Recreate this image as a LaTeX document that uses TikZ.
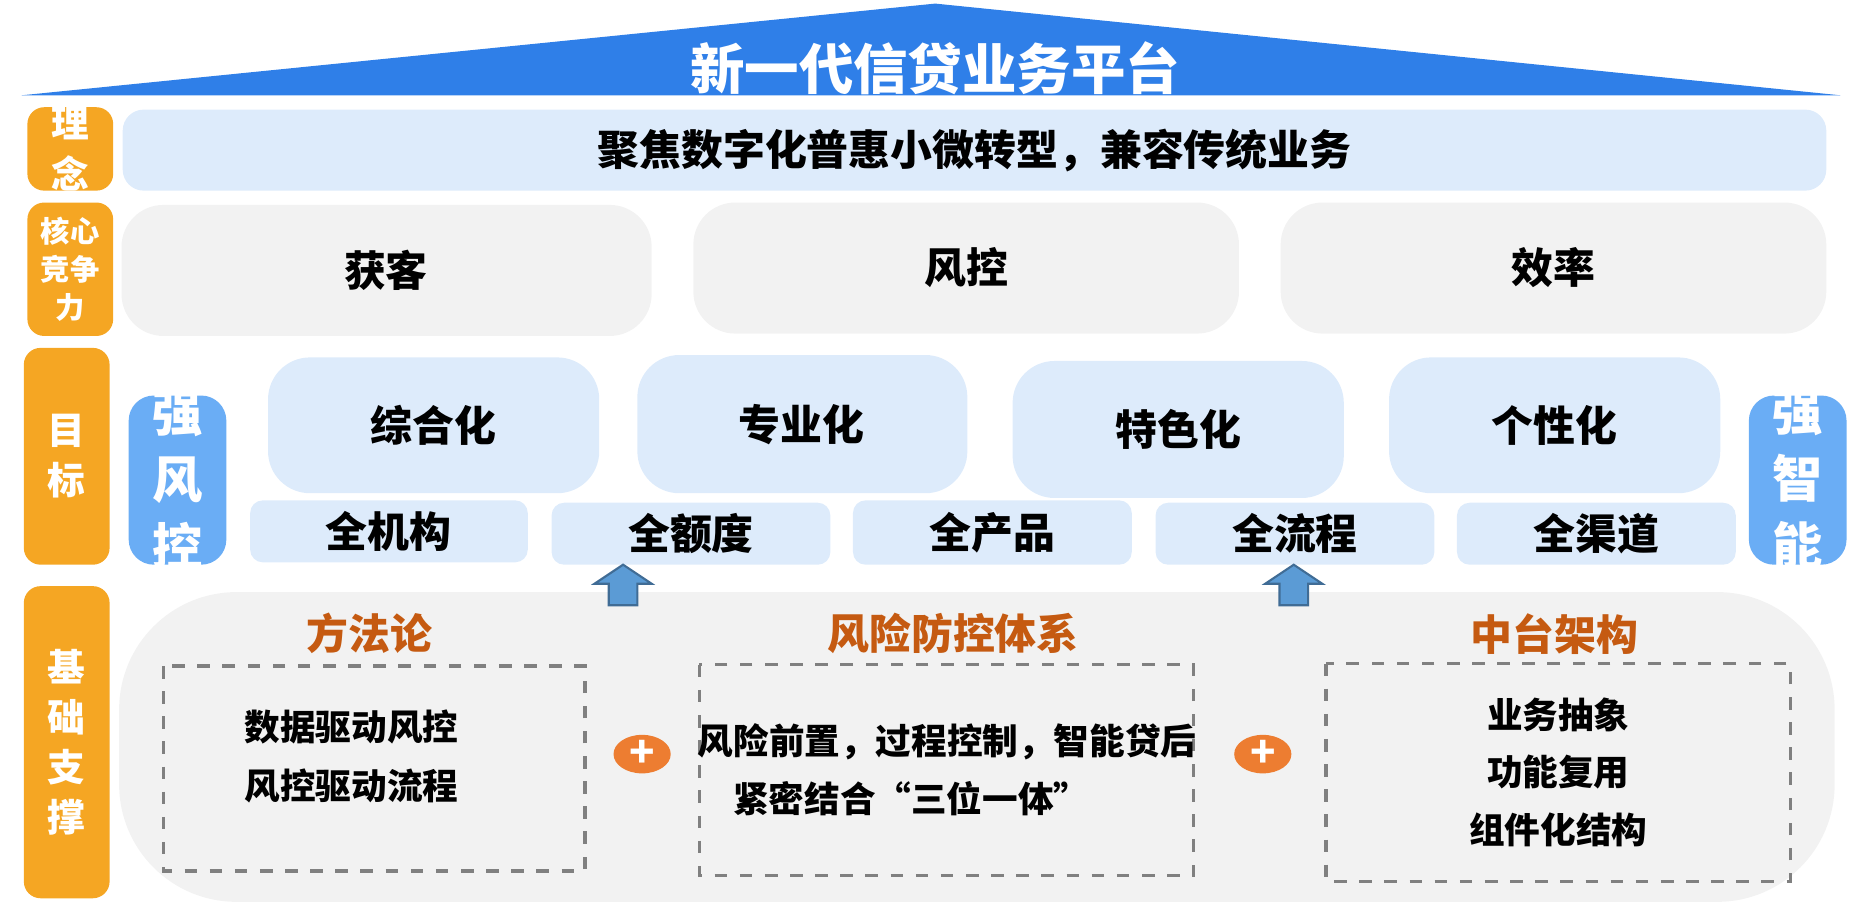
\documentclass[tikz,border=0pt]{standalone}
\usepackage{fontspec}
\setmainfont{Noto Sans CJK SC}
\usetikzlibrary{shapes.geometric,positioning}
\definecolor{roofblue}{HTML}{2F7FE8}
\definecolor{tagorange}{HTML}{F5A623}
\definecolor{paleblue}{HTML}{DDEBFB}
\definecolor{palegrey}{HTML}{F2F2F2}
\definecolor{strongblue}{HTML}{6AADF5}
\definecolor{headbrown}{HTML}{C55A11}
\definecolor{plusorange}{HTML}{ED7D31}
\definecolor{arrowblue}{HTML}{5B9BD5}
\tikzset{
  tag/.style={fill=tagorange,rounded corners=4pt,draw=none},
  tagtext/.style={text=white,font=\bfseries\fontsize{9}{12}\selectfont,align=center},
  pale/.style={fill=paleblue,rounded corners=5pt,draw=none},
  grey/.style={fill=palegrey,rounded corners=10pt,draw=none},
  big/.style={font=\bfseries\fontsize{12}{16}\selectfont},
  mid/.style={font=\bfseries\fontsize{10}{12}\selectfont},
  small/.style={font=\bfseries\fontsize{8.5}{10}\selectfont},
  dashbox/.style={draw=gray,dashed,line width=0.8pt},
  plus/.style={ellipse,fill=plusorange,minimum width=0.48cm,minimum height=0.32cm,inner sep=0pt,text=white,font=\bfseries\fontsize{10}{10}\selectfont},
  uparrow/.style={fill=arrowblue,draw=arrowblue!70!black,line width=0.5pt}
}
\begin{document}
\begin{tikzpicture}[x=0.01cm,y=-0.01cm]
  \useasboundingbox (0,0) rectangle (1568,760);

  % roof
  \fill[roofblue] (18,80) -- (785,3) -- (1545,80) -- cycle;
  \node[text=white,font=\bfseries\fontsize{13}{15}\selectfont] (title) at (785,57) {新一代信贷业务平台};

  % left tags
  \fill[tag] (23,90) rectangle (95,160);
  \node[tagtext] (tag1) at (59,125) {理\\念};
  \fill[tag] (23,170) rectangle (95,282);
  \node[tagtext,font=\bfseries\fontsize{7}{9}\selectfont] (tag2) at (59,226) {核心\\竞争\\力};
  \fill[tag] (20,292) rectangle (92,474);
  \node[tagtext] (tag3) at (56,383) {目\\标};
  \fill[tag] (20,492) rectangle (92,754);
  \node[tagtext] (tag4) at (56,623) {基\\础\\支\\撑};

  % idea
  \fill[pale] (103,92) rectangle (1533,160);
  \node[mid] (idea) at (818,126) {聚焦数字化普惠小微转型，兼容传统业务};

  % core
  \fill[grey] (102,172) rectangle (547,282);
  \node[mid] (core1) at (324,227) {获客};
  \fill[grey] (582,170) rectangle (1040,280);
  \node[mid] (core2) at (811,225) {风控};
  \fill[grey] (1075,170) rectangle (1533,280);
  \node[mid] (core3) at (1304,225) {效率};

  % side boxes
  \fill[strongblue,rounded corners=6pt] (108,332) rectangle (190,474);
  \node[big,text=white,align=center] (side1) at (149,403) {强\\风\\控};
  \fill[strongblue,rounded corners=6pt] (1468,332) rectangle (1550,474);
  \node[big,text=white,align=center] (side2) at (1509,403) {强\\智\\能};

  % goals
  \fill[pale,rounded corners=10pt] (225,300) rectangle (503,414);
  \node[mid] (goal1) at (364,357) {综合化};
  \fill[pale,rounded corners=10pt] (535,298) rectangle (812,414);
  \node[mid] (goal2) at (673,356) {专业化};
  \fill[pale,rounded corners=10pt] (850,303) rectangle (1128,418);
  \node[mid] (goal3) at (989,360) {特色化};
  \fill[pale,rounded corners=10pt] (1166,300) rectangle (1444,414);
  \node[mid] (goal4) at (1305,357) {个性化};

  \fill[pale,rounded corners=3pt] (210,420) rectangle (443,472);
  \node[mid] (all1) at (326,446) {全机构};
  \fill[pale,rounded corners=3pt] (463,422) rectangle (697,474);
  \node[mid] (all2) at (580,448) {全额度};
  \fill[pale,rounded corners=3pt] (716,420) rectangle (950,474);
  \node[mid] (all3) at (833,447) {全产品};
  \fill[pale,rounded corners=3pt] (970,422) rectangle (1204,474);
  \node[mid] (all4) at (1087,448) {全流程};
  \fill[pale,rounded corners=3pt] (1223,422) rectangle (1457,474);
  \node[mid] (all5) at (1340,448) {全渠道};

  % base
  \fill[palegrey,rounded corners=28pt] (100,497) rectangle (1540,757);
  \foreach \ax in {523,1086}
    \draw[uparrow] (\ax,474) -- (\ax+24,490) -- (\ax+12,490) -- (\ax+12,508)
      -- (\ax-12,508) -- (\ax-12,490) -- (\ax-24,490) -- cycle;

  \node[mid,text=headbrown] (head1) at (310,532) {方法论};
  \node[mid,text=headbrown] (head2) at (800,532) {风险防控体系};
  \node[mid,text=headbrown] (head3) at (1305,532) {中台架构};

  \draw[dashbox] (137,559) rectangle (491,731);
  \draw[dashbox] (587,558) rectangle (1002,735);
  \draw[dashbox] (1113,557) rectangle (1503,740);

  \node[small] (m1) at (295,610) {数据驱动风控};
  \node[small] (m2) at (295,660) {风控驱动流程};
  \node[small] (r1) at (795,623) {风险前置，过程控制，智能贷后};
  \node[small] (r2) at (765,670) {紧密结合“三位一体”};
  \node[small] (c1) at (1308,600) {业务抽象};
  \node[small] (c2) at (1308,648) {功能复用};
  \node[small] (c3) at (1308,697) {组件化结构};

  \node[plus] (plus1) at (539,633) {+};
  \node[plus] (plus2) at (1060,633) {+};
\end{tikzpicture}
\end{document}
